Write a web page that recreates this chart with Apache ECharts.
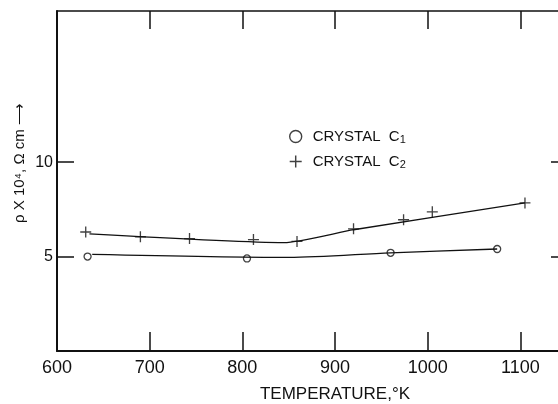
<!DOCTYPE html>
<html>
<head>
<meta charset="utf-8">
<script src="https://cdn.jsdelivr.net/npm/echarts@6/dist/echarts.min.js"></script>
<style>
  html, body { margin: 0; padding: 0; background: #fff; }
  #chart { width: 558px; height: 404px; }
</style>
</head>
<body>
<div id="chart"></div>
<script>
// measured points, crystal C1 (circles) and C2 (crosses)
const c1Temp = [633, 805, 960, 1075];
const c1Rho = [5.0, 4.9, 5.2, 5.4];
const c2Temp = [631, 690, 743, 812, 859, 920, 974, 1005, 1105];
const c2Rho = [6.3, 6.05, 5.95, 5.9, 5.8, 6.47, 6.95, 7.37, 7.84];

// hand drawn curves through the points
const c1FitTemp = [638, 850, 960, 1075];
const c1FitRho = [5.12, 4.96, 5.2, 5.4];
const c2FitTemp = [635, 845, 920, 1105];
const c2FitRho = [6.2, 5.74, 6.42, 7.84];

const xTicks = [600, 700, 800, 900, 1000, 1100];
const yTicks = [5, 10];

const pairs = (xs, ys) => xs.map((x, i) => [x, ys[i]]);
const crossIcon = 'path://M4.4,0H5.6V4.4H10V5.6H5.6V10H4.4V5.6H0V4.4H4.4Z';
const ink = '#111';
const font = '"Liberation Sans", Arial, sans-serif';

const chart = echarts.init(document.getElementById('chart'));
// plot frame runs past the right edge of the picture (cut off in the original scan)
chart.setOption({
    backgroundColor: '#fff',
    animation: false,
    grid: { left: 57, top: 11, width: 556, height: 340, outerBoundsMode: 'none', containLabel: false },
    legend: {
        orient: 'vertical',
        left: 284,
        top: 124,
        itemGap: 9,
        itemWidth: 12,
        itemHeight: 12,
        textStyle: {
            color: ink, fontSize: 15, fontFamily: font,
            rich: {
                a: { fontSize: 15, fontFamily: font, color: ink, padding: [0, 0, 0, 6] },
                s: { fontSize: 11, fontFamily: font, color: ink, padding: [6, 0, 0, 0] }
            }
        },
        formatter: name => name === 'C1' ? '{a|CRYSTAL  C}{s|1}' : '{a|CRYSTAL  C}{s|2}',
        data: [
            { name: 'C1', icon: 'circle', itemStyle: { color: '#fff', borderColor: ink, borderWidth: 1.4 } },
            { name: 'C2', icon: crossIcon, itemStyle: { color: ink } }
        ]
    },
    xAxis: [
        {
            type: 'value', min: 600, max: 1200, interval: 100, position: 'bottom',
            name: 'TEMPERATURE,°K', nameLocation: 'middle', nameGap: 35,
            nameTextStyle: { color: ink, fontSize: 17, fontFamily: font, padding: [0, 0, 0, 0] },
            axisLine: { onZero: false, lineStyle: { color: ink, width: 2 } },
            axisTick: { inside: true, length: 19, customValues: xTicks, lineStyle: { color: ink, width: 1.5 } },
            axisLabel: {
                showMaxLabel: false,
                formatter: v => (xTicks.indexOf(v) >= 0 ? String(v) : ''),
                margin: 8, color: ink, fontSize: 18, fontFamily: font
            },
            splitLine: { show: false }
        },
        {
            type: 'value', min: 600, max: 1200, interval: 100, position: 'top',
            axisLine: { show: true, onZero: false, lineStyle: { color: ink, width: 1.5 } },
            axisTick: { show: true, inside: true, length: 18, customValues: xTicks.slice(1), lineStyle: { color: ink, width: 1.5 } },
            axisLabel: { show: false },
            splitLine: { show: false }
        }
    ],
    yAxis: [
        {
            type: 'value', min: 0, max: 18, position: 'left',
            axisLine: { show: true, onZero: false, lineStyle: { color: ink, width: 2 } },
            axisTick: { show: true, inside: true, length: 17, customValues: yTicks, lineStyle: { color: ink, width: 1.5 } },
            axisLabel: { customValues: yTicks, margin: 4, color: ink, fontSize: 16, fontFamily: font },
            splitLine: { show: false }
        },
        {
            type: 'value', min: 0, max: 18, position: 'right',
            axisLine: { show: true, onZero: false, lineStyle: { color: ink, width: 1.5 } },
            axisTick: { show: true, inside: true, length: 62, customValues: yTicks, lineStyle: { color: ink, width: 1.5 } },
            axisLabel: { show: false },
            splitLine: { show: false }
        }
    ],
    graphic: [
        {
            type: 'text', x: 20, y: 163, rotation: Math.PI / 2,
            style: {
                text: 'ρ X 10⁴, Ω cm ⟶',
                fill: ink, font: '15px ' + font,
                align: 'center', verticalAlign: 'middle'
            }
        },
        {
            // the x-axis title sits left of the (off-screen) frame centre
            type: 'text', x: 316, y: 392, silent: true,
            style: { text: '', fill: ink }
        }
    ],
    series: [
        {
            type: 'line', data: pairs(c1FitTemp, c1FitRho), smooth: 0.3,
            showSymbol: false, silent: true,
            lineStyle: { color: ink, width: 1.3 }
        },
        {
            type: 'line', data: pairs(c2FitTemp, c2FitRho), smooth: 0.2,
            showSymbol: false, silent: true,
            lineStyle: { color: ink, width: 1.3 }
        },
        {
            name: 'C1', type: 'scatter', data: pairs(c1Temp, c1Rho),
            symbol: 'circle', symbolSize: 7,
            itemStyle: { color: '#fff', borderColor: ink, borderWidth: 1.3 }
        },
        {
            name: 'C2', type: 'scatter', data: pairs(c2Temp, c2Rho),
            symbol: crossIcon, symbolSize: 11,
            itemStyle: { color: ink }
        }
    ]
});
</script>
</body>
</html>
